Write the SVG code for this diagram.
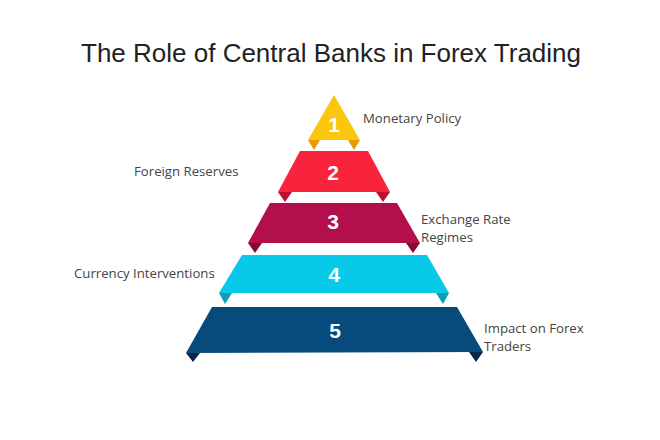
<svg xmlns="http://www.w3.org/2000/svg" width="660" height="440" viewBox="0 0 660 440">
<style>
.title{font:26px "Liberation Sans",Arial,sans-serif;fill:#222}
.lab{font:13.2px "Open Sans","Noto Sans",sans-serif;fill:#444}
.num{font:bold 21px "Liberation Sans",Arial,sans-serif;fill:#fff;text-anchor:middle}
</style>
<rect width="660" height="440" fill="#fff"/>
<text class="title" x="81" y="62">The Role of Central Banks in Forex Trading</text>
<g id="tier1">
<path d="M308 140H320L314 150ZM348 140H360L354 150Z" fill="#e59a00"/>
<path d="M334 95L360 140H308Z" fill="#fac70e"/>
<text class="num" x="334" y="132">1</text>
<text class="lab" x="363" y="123">Monetary Policy</text>
</g>
<g id="tier2">
<path d="M278 192H292L285 202ZM376 192H390L383 202Z" fill="#bd1030"/>
<path d="M300 151H368L390 192H278Z" fill="#f8233c"/>
<text class="num" x="333" y="180">2</text>
<text class="lab" x="134" y="176">Foreign Reserves</text>
</g>
<g id="tier3">
<path d="M248 243H262L255 253ZM406 243H420L413 253Z" fill="#850a36"/>
<path d="M270 203H397L420 243H248Z" fill="#b30f4c"/>
<text class="num" x="333" y="229">3</text>
<text class="lab" x="421" y="224">Exchange Rate</text>
<text class="lab" x="421" y="242">Regimes</text>
</g>
<g id="tier4">
<path d="M219 293H232L225 304ZM436 293H449L443 304Z" fill="#0f9db5"/>
<path d="M242 255H427L449 293H219Z" fill="#09c9e8"/>
<text class="num" x="334" y="282">4</text>
<text class="lab" x="74" y="278">Currency Interventions</text>
</g>
<g id="tier5">
<path d="M186 353H200L193 362ZM469 352H483L476 362Z" fill="#04294d"/>
<path d="M212 307H457L483 352L186 353Z" fill="#064b7c"/>
<text class="num" x="335" y="338">5</text>
<text class="lab" x="484" y="333">Impact on Forex</text>
<text class="lab" x="484" y="351">Traders</text>
</g>
<g id="connectors"/>
</svg>
